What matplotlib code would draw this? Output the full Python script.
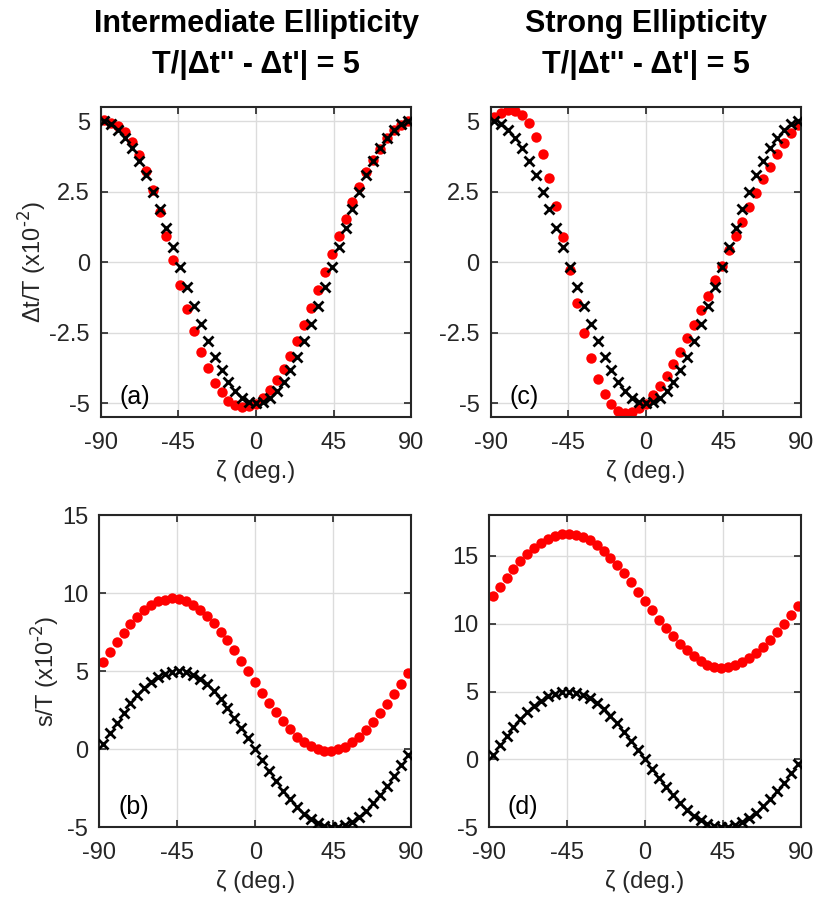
import matplotlib.pyplot as plt

plt.rcParams['font.family'] = ['Liberation Sans', 'DejaVu Sans']
plt.rcParams['axes.unicode_minus'] = False

# orientation angle zeta (deg.)
zeta = [-88, -84, -80, -76, -72, -68, -64, -60, -56, -52, -48, -44, -40, -36, -32,
        -28, -24, -20, -16, -12, -8, -4, 0, 4, 8, 12, 16, 20, 24, 28, 32, 36,
        40, 44, 48, 52, 56, 60, 64, 68, 72, 76, 80, 84, 88]

# delay dt/T (x1e-2), reference (black crosses), same in (a) and (c)
dt_ref = [4.99, 4.89, 4.70, 4.41, 4.05, 3.60, 3.08, 2.50, 1.87, 1.21, 0.52, -0.17,
          -0.87, -1.55, -2.19, -2.80, -3.35, -3.83, -4.24, -4.57, -4.81, -4.95, -5.00,
          -4.95, -4.81, -4.57, -4.24, -3.83, -3.35, -2.80, -2.19, -1.55, -0.87, -0.17,
          0.52, 1.21, 1.87, 2.50, 3.08, 3.60, 4.05, 4.41, 4.70, 4.89, 4.99]

# intermediate ellipticity (a)
dt_mid = [5.04, 4.94, 4.82, 4.62, 4.27, 3.79, 3.22, 2.55, 1.78, 0.92, 0.09, -0.80,
          -1.66, -2.46, -3.17, -3.76, -4.27, -4.62, -4.91, -5.07, -5.12, -5.09, -5.02,
          -4.82, -4.55, -4.17, -3.79, -3.32, -2.78, -2.22, -1.63, -1.00, -0.36, 0.30,
          0.92, 1.53, 2.12, 2.67, 3.19, 3.62, 4.02, 4.41, 4.68, 4.88, 5.00]

# strong ellipticity (c)
dt_strong = [5.15, 5.30, 5.38, 5.36, 5.21, 4.92, 4.44, 3.84, 2.99, 2.00, 0.89, -0.27,
             -1.46, -2.51, -3.40, -4.15, -4.68, -5.04, -5.27, -5.36, -5.33, -5.18, -5.02,
             -4.70, -4.41, -4.03, -3.60, -3.17, -2.69, -2.22, -1.69, -1.19, -0.64, -0.12,
             0.42, 0.94, 1.44, 1.96, 2.46, 2.95, 3.38, 3.82, 4.23, 4.59, 4.88]

# shift s/T (x1e-2), reference (black crosses), same in (b) and (d)
s_ref = [0.35, 1.04, 1.71, 2.35, 2.94, 3.47, 3.94, 4.33, 4.64, 4.85, 4.97, 5.00,
         4.92, 4.76, 4.49, 4.15, 3.72, 3.21, 2.65, 2.03, 1.38, 0.70, 0.00,
         -0.70, -1.38, -2.03, -2.65, -3.21, -3.72, -4.15, -4.49, -4.76, -4.92, -5.00,
         -4.97, -4.85, -4.64, -4.33, -3.94, -3.47, -2.94, -2.35, -1.71, -1.04, -0.35]

s_mid = [5.60, 6.26, 6.88, 7.46, 8.01, 8.48, 8.89, 9.23, 9.47, 9.59, 9.66, 9.64,
         9.49, 9.25, 8.93, 8.55, 8.08, 7.54, 6.97, 6.35, 5.68, 4.98, 4.32,
         3.63, 2.99, 2.39, 1.82, 1.28, 0.81, 0.47, 0.19, 0.00, -0.11, -0.13,
         -0.02, 0.17, 0.43, 0.77, 1.22, 1.73, 2.29, 2.88, 3.53, 4.21, 4.89]

s_strong = [12.04, 12.71, 13.38, 14.00, 14.63, 15.12, 15.60, 15.97, 16.27, 16.49, 16.62,
            16.64, 16.57, 16.39, 16.14, 15.80, 15.37, 14.88, 14.33, 13.73, 13.06,
            12.36, 11.68, 10.98, 10.29, 9.66, 9.07, 8.53, 8.04, 7.60, 7.25, 6.99,
            6.81, 6.76, 6.81, 6.94, 7.16, 7.45, 7.84, 8.28, 8.80, 9.36, 10.00, 10.64, 11.32]

titles = ["Intermediate Ellipticity", "Strong Ellipticity"]
subtitle = "T/|\u0394t'' - \u0394t'| = 5"
xticks = [-90, -45, 0, 45, 90]

fig = plt.figure(figsize=(8.14, 9.07), dpi=100)
ax_a = fig.add_axes([0.124, 0.540, 0.381, 0.342])
ax_c = fig.add_axes([0.603, 0.540, 0.381, 0.342])
ax_b = fig.add_axes([0.122, 0.088, 0.383, 0.344])
ax_d = fig.add_axes([0.601, 0.088, 0.383, 0.344])

panels = [
    (ax_a, dt_mid, dt_ref, '(a)', (-5.5, 5.5), [-5, -2.5, 0, 2.5, 5], ['-5', '-2.5', '0', '2.5', '5']),
    (ax_c, dt_strong, dt_ref, '(c)', (-5.5, 5.5), [-5, -2.5, 0, 2.5, 5], ['-5', '-2.5', '0', '2.5', '5']),
    (ax_b, s_mid, s_ref, '(b)', (-5, 15), [-5, 0, 5, 10, 15], ['-5', '0', '5', '10', '15']),
    (ax_d, s_strong, s_ref, '(d)', (-5, 18), [-5, 0, 5, 10, 15], ['-5', '0', '5', '10', '15']),
]

for ax, red, black, lab, ylim, yt, ytl in panels:
    ax.plot(zeta, black, 'x', color='black', ms=7, mew=2, zorder=3)
    ax.plot(zeta, red, 'o', color='#ff0000', mec='none', ms=7.5, zorder=2)
    ax.set_xlim(-90, 90)
    ax.set_ylim(*ylim)
    ax.set_xticks(xticks)
    ax.set_xticklabels([str(t) for t in xticks])
    ax.set_yticks(yt)
    ax.set_yticklabels(ytl)
    ax.grid(True, color='#dcdcdc', lw=1)
    ax.set_axisbelow(True)
    ax.tick_params(direction='in', top=True, right=True, length=5, width=1.2,
                   labelsize=17, colors='#262626')
    ax.tick_params(axis='x', pad=11)
    ax.tick_params(axis='y', pad=8)
    for sp in ax.spines.values():
        sp.set_linewidth(1.5)
        sp.set_color('#262626')
    ax.set_xlabel('\u03b6 (deg.)', fontsize=17, color='#262626', labelpad=4)
    ax.text(0.06, 0.065, lab, transform=ax.transAxes, fontsize=18, va='center', ha='left')

ax_a.set_ylabel('\u0394t/T (x10$^{\\text{-2}}$)', fontsize=17, color='#262626', labelpad=0)
ax_b.set_ylabel('s/T (x10$^{\\text{-2}}$)', fontsize=17, color='#262626', labelpad=0)

for ax, t in zip([ax_a, ax_c], titles):
    ax.text(0.5, 1.267, t, transform=ax.transAxes, ha='center', va='center',
            fontsize=22, fontweight='bold')
    ax.text(0.5, 1.135, subtitle, transform=ax.transAxes, ha='center', va='center',
            fontsize=22, fontweight='bold')

fig.savefig('out.png', dpi=100)
